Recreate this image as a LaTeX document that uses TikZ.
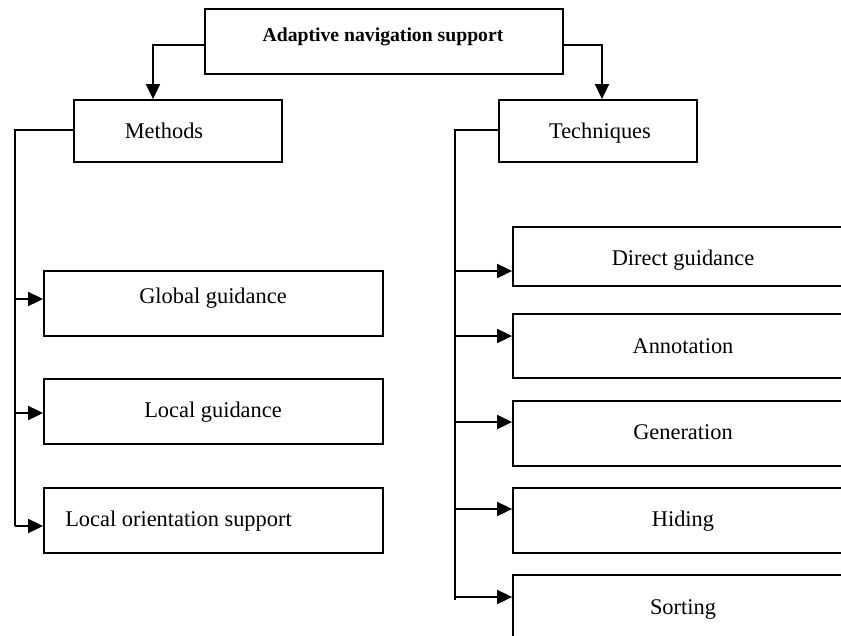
\documentclass[tikz,border=0pt]{standalone}
\usepackage{fontspec}
\setmainfont{Liberation Serif}
\usetikzlibrary{arrows.meta}
\begin{document}
\begin{tikzpicture}[x=1pt,y=-1pt,
  box/.style={draw,line width=1.8pt,rectangle,inner sep=0pt},
  lbl/.style={anchor=base,inner sep=0pt,font=\fontsize{22.4}{26}\selectfont},
  ttl/.style={anchor=base,inner sep=0pt,font=\fontsize{19.7}{24}\selectfont\bfseries},
  wire/.style={line width=1.8pt},
  arr/.style={line width=1.8pt,-{Triangle[length=15pt,width=14pt]}}]
\useasboundingbox (0,0) rectangle (841,635);
\clip (0,0) rectangle (841,635);

% root and the two branches
\node[box,minimum width=358pt,minimum height=65pt] (root) at (384,41.5) {};
\node[ttl] (troot) at (383,41) {Adaptive navigation support};
\node[box,minimum width=208pt,minimum height=62pt] (meth) at (178,131) {};
\node[lbl] (tmeth) at (164,138) {Methods};
\node[box,minimum width=198pt,minimum height=62pt] (tech) at (598,131) {};
\node[lbl] (ttech) at (600,138) {Techniques};

% methods
\node[box,minimum width=339pt,minimum height=65pt] (glob) at (213.5,303.5) {};
\node[lbl] (tglob) at (213,303) {Global guidance};
\node[box,minimum width=339pt,minimum height=65pt] (loc) at (213.5,411.5) {};
\node[lbl] (tloc) at (213,417) {Local guidance};
\node[box,minimum width=339pt,minimum height=65pt] (lor) at (213.5,520.5) {};
\node[lbl] (tlor) at (178.5,526) {Local orientation support};

% techniques (run past the right edge)
\node[box,minimum width=387pt,minimum height=59pt] (dir) at (706.5,256.5) {};
\node[lbl] (tdir) at (683,265) {Direct guidance};
\node[box,minimum width=387pt,minimum height=64pt] (ann) at (706.5,346) {};
\node[lbl] (tann) at (683,353) {Annotation};
\node[box,minimum width=387pt,minimum height=65pt] (gen) at (706.5,433.5) {};
\node[lbl] (tgen) at (683,439) {Generation};
\node[box,minimum width=387pt,minimum height=65pt] (hid) at (706.5,520.5) {};
\node[lbl] (thid) at (683,526) {Hiding};
\node[box,minimum width=387pt,minimum height=85pt] (srt) at (706.5,617.5) {};
\node[lbl] (tsrt) at (683,614) {Sorting};

% root to branches
\coordinate (rl) at (153,45);
\coordinate (rr) at (602,45);
\draw[arr] (root.west |- rl) -- (rl) -- (rl |- meth.north);
\draw[arr] (root.east |- rr) -- (rr) -- (rr |- tech.north);

% methods bus
\coordinate (mb) at (15,130);
\coordinate (mb1) at (15,299);
\coordinate (mb2) at (15,413);
\coordinate (mb3) at (15,526);
\draw[wire] (meth.west |- mb) -- (mb) -- (mb3);
\draw[arr] (mb1) -- (glob.west |- mb1);
\draw[arr] (mb2) -- (loc.west |- mb2);
\draw[arr] (mb3) -- (lor.west |- mb3);

% techniques bus
\coordinate (tb) at (455,130);
\coordinate (tb1) at (455,271);
\coordinate (tb2) at (455,336);
\coordinate (tb3) at (455,422);
\coordinate (tb4) at (455,509);
\coordinate (tb5) at (455,597);
\coordinate (tbe) at (455,600);
\draw[wire] (tech.west |- tb) -- (tb) -- (tbe);
\draw[arr] (tb1) -- (dir.west |- tb1);
\draw[arr] (tb2) -- (ann.west |- tb2);
\draw[arr] (tb3) -- (gen.west |- tb3);
\draw[arr] (tb4) -- (hid.west |- tb4);
\draw[arr] (tb5) -- (srt.west |- tb5);
\end{tikzpicture}
\end{document}
